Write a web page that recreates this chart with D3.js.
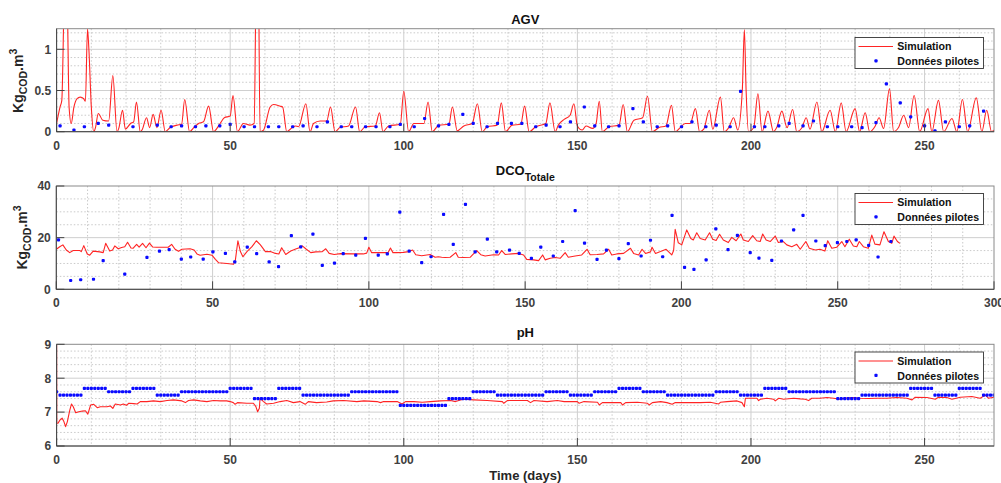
<!DOCTYPE html>
<html><head><meta charset="utf-8">
<script src="https://cdn.jsdelivr.net/npm/d3@7"></script>
<style>
body{margin:0;background:#fff}
svg{display:block}
text{font-family:"Liberation Sans",Arial,Helvetica,sans-serif;font-weight:bold}
</style>
</head><body>
<svg id="c" width="1001" height="483"></svg>
<script>
// ---------------- DATA ----------------
const legendLabels = ["Simulation", "Données pilotes"];
const titles = ["AGV", "DCO", "pH"];
const xLabel = "Time (days)";

const agvXTicks = [0, 50, 100, 150, 200, 250];
const agvYTicks = [0, 0.5, 1];
const dcoXTicks = [0, 50, 100, 150, 200, 250, 300];
const dcoYTicks = [0, 20, 40];
const phXTicks = [0, 50, 100, 150, 200, 250];
const phYTicks = [6, 7, 8, 9];

// AGV simulation [day, value]
const agvSim = [[0,0.1],[1,0.3],[1.5,0.38],[2,1.3],[2.6,3],[3.2,1.3],[3.6,0.3],[4.2,0.1],[5,0.3],[5.9,0.4],[6.8,0.42],[7.8,0.4],[8.3,0.37],[8.9,1.25],[9.3,1.0],[10,0.3],[10.7,0.0],[11.2,0.05],[12,0.22],[13.3,0.14],[15,0.13],[16.2,0.68],[17.4,0],[17.9,0.04],[19,0.26],[19.8,0.03],[21.3,0.1],[22.2,0.12],[23,0.36],[24.1,0],[24.6,0.02],[25.9,0.17],[26.8,0.05],[27.8,0.21],[28.9,0.05],[30.1,0.26],[31.3,0],[32.7,0.05],[34.7,0.08],[36,0.09],[36.9,0.39],[38.3,0],[39.5,0.05],[40.9,0.1],[42.3,0.12],[43.8,0.31],[45.2,0],[47.1,0.1],[48.3,0.17],[50,0.19],[50.8,0.44],[52.1,0],[53.8,0.1],[55.7,0.08],[56.9,0.1],[57.5,2],[58,2.5],[58.6,0],[59.6,0.02],[61.5,0.3],[62.5,0.33],[64.4,0.31],[65.1,0.3],[66.3,0],[67.3,0.03],[68.7,0.07],[69.7,0.06],[71.8,0.34],[73,0],[74,0.1],[75.9,0.13],[77.8,0.13],[78.9,0.3],[80.2,0],[81.6,0.05],[84.1,0.07],[86.1,0.3],[87.3,0],[88.9,0.06],[91.8,0.07],[93,0.23],[94,0],[95.6,0.07],[99,0.09],[100,0.49],[101.4,0],[102.9,0.1],[105.8,0.1],[107,0.36],[108.2,0],[110.1,0.08],[113,0.09],[114,0.3],[115.4,0.01],[117.3,0.07],[119.7,0.1],[121.2,0.34],[122.6,0],[124,0.06],[126.9,0.08],[128.1,0.35],[129.3,0],[131.2,0.08],[133.7,0.09],[134.8,0.31],[136.1,0],[138,0.06],[140.9,0.1],[142.1,0.35],[143.6,0],[144.5,0.08],[146.2,0.15],[147.9,0.2],[149,0.34],[150,0.07],[151.4,0.02],[152.5,0.07],[154.4,0.04],[155.4,0.1],[156.3,0.37],[157.2,0],[159.1,0.06],[162,0.08],[163.2,0.33],[164.4,0],[166.3,0.14],[168.8,0.17],[170.2,0.43],[171.6,0],[173.5,0.05],[175.5,0.07],[177.1,0.32],[178.2,0],[179.6,0.05],[181.1,0.1],[182.5,0.1],[184,0.28],[185.2,0],[186.4,0.03],[188,0.26],[189,0.03],[191.2,0.42],[192.3,0],[193.6,0.05],[195,0.17],[196.2,0.02],[197.5,0.5],[198.1,1.24],[198.6,0.5],[199.3,0],[200.8,0.05],[202,0.46],[203.2,0],[204.9,0.25],[206.5,0],[207.4,0.05],[208.9,0.25],[210.4,0.05],[212,0.27],[213.2,0],[214.7,0.05],[215.9,0.17],[217,0.03],[219,0.36],[220.4,0],[222.8,0.26],[224.3,0],[226,0.35],[227.4,0],[230,0.28],[231.3,0],[232.9,0.23],[234.2,0],[235.8,0.07],[236.9,0.17],[238.2,0.04],[239.9,0.52],[241.1,0],[242.5,0.05],[244,0.2],[245.4,0.05],[247,0.44],[248.6,0],[251,0.28],[252.1,0],[254,0.38],[255.5,0],[257.9,0.16],[259.3,0],[260.9,0.39],[262.4,0],[264.9,0.41],[266.5,0],[267.9,0.26],[269.3,0],[270,0.02]];

// AGV pilot data [day, value]
const agvPilot = [[1,0.07],[5,0.02],[8,0.06],[12,0.1],[15,0.08],[22,0.06],[29,0.08],[33,0.06],[36,0.07],[40,0.06],[43,0.07],[47,0.07],[50,0.09],[54,0.06],[57,0.06],[61,0.06],[64,0.06],[68,0.06],[71,0.07],[75,0.06],[78,0.12],[82,0.06],[85,0.06],[89,0.06],[92,0.06],[96,0.06],[99,0.09],[103,0.06],[106,0.16],[110,0.07],[113,0.09],[117,0.21],[120,0.1],[124,0.06],[127,0.1],[131,0.1],[134,0.1],[138,0.06],[141,0.08],[145,0.06],[148,0.12],[152,0.3],[155,0.07],[159,0.06],[162,0.07],[166,0.28],[169,0.12],[173,0.06],[176,0.07],[180,0.06],[183,0.12],[187,0.06],[190,0.08],[194,0.06],[197,0.49],[201,0.06],[204,0.06],[208,0.07],[211,0.1],[215,0.07],[218,0.13],[222,0.06],[225,0.06],[229,0.06],[232,0.05],[236,0.11],[239,0.58],[243,0.35],[246,0.18],[250,0.07],[253,0.01],[256,0.12],[260,0.06],[263,0.07],[267,0.25]];

// DCO simulation [day, value]
const dcoSim = [[0,15.5],[1.1,16.5],[2.1,17.2],[3.2,15.2],[4.3,14.2],[5.4,15],[7.5,15],[8,14.6],[8.8,16.9],[9.9,13.7],[10.7,13.2],[11.8,14.8],[13.9,14.5],[15,14.2],[15.8,17.8],[17.1,14.8],[18,15.2],[18.7,16.8],[19.8,15.7],[20.9,16.2],[21.9,16.5],[22.8,18.2],[23.9,16],[24.6,15.9],[25.7,17.4],[26.5,16.3],[27.6,17.8],[28.7,16.1],[29.8,17.9],[30.8,16.4],[32.1,16.3],[34.3,16.3],[35.8,16.3],[36.9,17.4],[38,15.5],[39.1,14.7],[40.2,15.5],[42.8,15.7],[44.1,15.2],[45,13.7],[46,13.2],[48.2,13.6],[49.8,13.2],[50.9,11.6],[51.9,10.3],[54.6,10],[56.7,9.7],[57.3,11.4],[58.1,18.8],[58.9,14.6],[59.7,12.6],[61,14.6],[62.6,16.5],[64,18.8],[65.3,17.2],[66.9,14.6],[68.5,14.6],[70.1,13.9],[71.2,13.7],[72.1,16.1],[73.4,13.5],[75,14.8],[76.6,15.6],[78.2,16.3],[78.7,16.8],[79.8,15.7],[81.4,14.2],[83,14.5],[85.1,14.6],[86.2,15.7],[87.3,13.9],[88.9,13.5],[91,13.8],[95,13.7],[98.2,13.7],[99.3,14],[100,16.3],[100.9,14.2],[102.5,14.2],[105.2,14.2],[106.2,14.3],[106.9,16],[107.7,14.2],[108.9,14.2],[111,14.3],[112.8,14.6],[114,15.2],[115,13.4],[116.9,13],[119.6,13.5],[121.2,12.4],[122.2,12.6],[123.3,12.4],[124.4,12.3],[126,12.4],[127.8,14.2],[128.6,12.4],[130.2,12.3],[132.4,12.4],[134.5,15],[135.8,13.4],[137.2,12.9],[139.9,13.4],[141.5,13.3],[142.5,15],[143.6,13.5],[145.7,13.7],[147.9,13.9],[149.5,13.3],[150.5,11.6],[152.7,11.4],[154.3,11.1],[155.6,13.3],[156.4,11.4],[158,12],[159.6,12.3],[161.2,12],[162.8,14.2],[163.8,12.4],[166,12.9],[168.1,13.3],[169.8,15.5],[170.8,13.4],[173,13.5],[175.1,13.7],[176.7,15.5],[177.7,13.3],[179.3,13.7],[181.5,13.9],[183.7,15.9],[184.7,13.9],[186.3,13.3],[187.4,15.5],[188.5,13.9],[190.1,14.5],[190.6,16.3],[191.7,13.9],[193.3,14.6],[195.1,15.5],[196.9,13.3],[197.5,15],[198,23.2],[199,18],[200.1,17.2],[201.7,23],[203,19.7],[203.8,19.1],[204.9,21.9],[206,19.7],[207.6,19.1],[209,21.9],[210,19.4],[211.1,18.9],[212.2,21.3],[213.4,19.1],[215,18.1],[216.1,20.1],[217.5,18.8],[219,21.4],[219.8,19.1],[221.4,18.5],[222.8,20.8],[224.1,18.8],[225.2,18.5],[226,21.4],[227.1,19.1],[228.4,18.5],[230,20.6],[231,18.1],[232.6,18.5],[233.7,17.2],[235.3,16.5],[236.9,17.4],[238,15.5],[239.8,18.5],[240.9,15.9],[242.8,15.2],[244.3,15.5],[245.9,14.8],[246.8,18.8],[248.1,15.9],[249.7,16.3],[251.3,18.5],[252.3,16.5],[253.7,19.4],[255,16.8],[256.1,16.5],[256.9,18.5],[258.2,16.5],[259.8,15.9],[260.9,21],[261.9,17.5],[263.5,17.2],[264.8,22.3],[266.2,18.5],[267.3,17.8],[268,20.6],[269.1,18.5],[269.9,17.8]];

// DCO pilot data [day, value]
const dcoPilot = [[0.7,19.1],[4.6,3.4],[7.8,3.7],[11.9,3.9],[15,11.1],[21.9,5.9],[29,12.4],[33,14.8],[36.1,15.4],[40,11.7],[43,12.5],[47,11.7],[50.1,14.5],[54.1,13.9],[57.1,10.6],[61.1,16.3],[64.1,13.8],[68.1,10.6],[71.1,8.8],[75.2,20.8],[78.2,16.4],[82.1,21.4],[85.1,9.3],[89,10.1],[91.8,13.8],[95.8,13.2],[98.9,19.7],[103,13.2],[105.9,13.7],[109.9,29.9],[112.9,14.8],[116.9,10.3],[119.9,12.6],[123.9,29],[127,17.4],[130.9,32.9],[134,14.5],[137.9,19.4],[140.9,14.5],[145,15.2],[148.1,13.9],[152,12],[155,16.3],[159,12.9],[162,18.5],[166,30.5],[169,17.9],[173,11.6],[176,15.2],[180,11.9],[183,17.7],[187.1,12.9],[190.1,19],[194,12.6],[197,28.6],[201,8.5],[204,7.7],[207.9,11.4],[211,23.4],[214.9,15.4],[217.9,20.9],[222,14.2],[224.8,12.1],[228.9,11.2],[232,18.7],[235.9,23],[238.9,28.6],[243,18.7],[246,16.9],[249.9,18.1],[252.9,18.5],[255.9,19.1],[259.9,17],[262.9,12.5],[267,18.5]];

// pH simulation [day, value]
const phSim = [[0,9.2],[0.05,6.67],[0.4,6.67],[1,6.77],[1.6,6.82],[2.1,6.72],[2.6,6.57],[3.1,6.72],[3.8,7.06],[4.3,7.24],[4.8,7.16],[5.5,6.98],[6.4,7.01],[7.4,7.03],[8.3,7.04],[9,6.94],[9.8,7.21],[10.7,7.23],[11.7,7.13],[12.6,7.16],[14.5,7.16],[15.5,7.18],[16.2,7.11],[16.9,7.24],[18.4,7.21],[19.2,7.24],[20.1,7.2],[20.8,7.26],[22.2,7.25],[23.2,7.24],[24.1,7.31],[26,7.31],[27.9,7.33],[29.9,7.31],[31.8,7.34],[33.7,7.36],[36.1,7.33],[37.1,7.28],[38,7.34],[39.5,7.36],[41.4,7.33],[43.3,7.31],[45.2,7.34],[47.1,7.33],[49,7.33],[50,7.31],[50.9,7.28],[51.4,7.23],[52.1,7.28],[54.8,7.26],[56.7,7.26],[57.4,7.16],[57.9,7.01],[58.4,7.11],[58.6,7.41],[59.6,7.31],[60.5,7.24],[62.5,7.26],[64.4,7.31],[66.3,7.34],[68.2,7.28],[70.1,7.31],[71.6,7.23],[72.5,7.31],[74.9,7.28],[77.8,7.3],[79.7,7.33],[82.7,7.34],[86.5,7.31],[88.5,7.33],[92.3,7.31],[93.3,7.28],[94.2,7.31],[98.1,7.31],[99.5,7.24],[100.5,7.31],[102.9,7.31],[105.3,7.29],[107.7,7.31],[110.6,7.33],[113.5,7.34],[114.9,7.31],[116.3,7.36],[117.3,7.38],[120.2,7.36],[124,7.34],[128.4,7.31],[128.8,7.26],[129.8,7.34],[132.7,7.34],[135.6,7.34],[136.5,7.28],[137.5,7.34],[141.3,7.31],[144.2,7.34],[146.2,7.31],[150,7.31],[150.5,7.26],[151.9,7.31],[155.8,7.29],[156.3,7.21],[157.2,7.28],[159.6,7.28],[162.5,7.28],[163,7.21],[163.9,7.28],[167.3,7.29],[170.2,7.26],[170.7,7.21],[171.6,7.28],[174,7.31],[175.8,7.28],[177.3,7.23],[178.2,7.28],[181.6,7.28],[185.4,7.28],[188.3,7.29],[190.7,7.24],[191.2,7.29],[193.1,7.31],[196,7.33],[197.4,7.28],[198.1,7.16],[198.4,7.41],[199.8,7.41],[201.7,7.41],[202.2,7.34],[202.7,7.38],[204.6,7.41],[206.5,7.38],[207,7.33],[208,7.41],[209.4,7.38],[212.3,7.41],[214.2,7.39],[215.6,7.38],[216.6,7.34],[217.5,7.41],[219.9,7.41],[221.9,7.43],[223.8,7.41],[225.7,7.38],[226.7,7.41],[229.1,7.43],[231.5,7.41],[233.9,7.4],[236.3,7.41],[239.2,7.41],[242,7.43],[244.9,7.41],[246.4,7.36],[247.3,7.44],[250.7,7.43],[253.1,7.38],[254,7.44],[256.4,7.43],[257.9,7.38],[260.3,7.44],[263.6,7.46],[266,7.41],[267.5,7.5],[268.4,7.41],[270,7.44]];

// pH pilot data as daily runs [firstDay, lastDay, value]
const phPilotRuns = [[0,0,7.6],[1,7,7.5],[8,14,7.7],[15,21,7.6],[22,28,7.7],[29,35,7.5],[36,49,7.6],[50,56,7.7],[57,63,7.4],[64,70,7.7],[71,84,7.5],[85,98,7.6],[99,112,7.2],[113,119,7.4],[120,126,7.6],[127,140,7.5],[141,147,7.6],[148,154,7.5],[155,161,7.6],[162,168,7.7],[169,175,7.6],[176,189,7.5],[190,196,7.6],[197,203,7.5],[204,210,7.7],[211,224,7.6],[225,231,7.4],[232,245,7.5],[246,252,7.7],[253,259,7.5],[260,266,7.7],[267,270,7.5]];

// ---------------- DRAW ----------------
const RED = "#ff2424", BLUE = "#0a0aff";
const svg = d3.select("#c");
const defs = svg.append("defs");

const phPilot = [];
phPilotRuns.forEach(([s, e, v]) => { for (let d = s; d <= e; d++) phPilot.push([d, v]); });

const panels = [
  {id:"agv", l:56.6, r:994, t:28.7, b:131.7, xdom:[0,270], ydom:[0,1.25], xt:agvXTicks, yt:agvYTicks, xminor:10, yminor:0.1,
   sim:agvSim, pilot:agvPilot, curve:d3.curveMonotoneX, fmt:d=>String(d), legTop:37.5,
   title:{x:525.3, y:23.5}, ylab:{x:22.7, y:80.8}},
  {id:"dco", l:56.3, r:994, t:186, b:289.3, xdom:[0,300], ydom:[0,40], xt:dcoXTicks, yt:dcoYTicks, xminor:10, yminor:5,
   sim:dcoSim, pilot:dcoPilot, curve:d3.curveLinear, fmt:d=>String(d), legTop:193.5,
   title:{x:525.3, y:175}, ylab:{x:27.3, y:237.5}},
  {id:"ph", l:56.6, r:994, t:344.3, b:446, xdom:[0,270], ydom:[6,9], xt:phXTicks, yt:phYTicks, xminor:10, yminor:0.2,
   sim:phSim, pilot:phPilot, curve:d3.curveLinear, fmt:d=>String(d), legTop:352,
   title:{x:525.3, y:337}, ylab:null}
];

panels.forEach((p, i) => {
  const x = d3.scaleLinear().domain(p.xdom).range([p.l, p.r]);
  const y = d3.scaleLinear().domain(p.ydom).range([p.b, p.t]);
  const g = svg.append("g");

  // minor grid
  const xMinor = d3.range(p.xdom[0], p.xdom[1] + 1e-9, p.xminor).filter(v => !p.xt.includes(v) && v > p.xdom[0] && v < p.xdom[1]);
  const nY = Math.round((p.ydom[1] - p.ydom[0]) / p.yminor);
  const yMinor = d3.range(1, nY).map(k => +(p.ydom[0] + k * p.yminor).toFixed(4)).filter(v => !p.yt.some(t => Math.abs(t - v) < 1e-6));
  g.selectAll(".mx").data(xMinor).join("line")
    .attr("x1", d => x(d)).attr("x2", d => x(d)).attr("y1", p.t).attr("y2", p.b)
    .attr("stroke", "#bdbdbd").attr("stroke-width", 0.8).attr("stroke-dasharray", "1.5,2");
  g.selectAll(".my").data(yMinor).join("line")
    .attr("x1", p.l).attr("x2", p.r).attr("y1", d => y(d)).attr("y2", d => y(d))
    .attr("stroke", "#bdbdbd").attr("stroke-width", 0.8).attr("stroke-dasharray", "1.5,2");
  // major grid
  g.selectAll(".gx").data(p.xt.filter(v => v > p.xdom[0] && v < p.xdom[1])).join("line")
    .attr("x1", d => x(d)).attr("x2", d => x(d)).attr("y1", p.t).attr("y2", p.b)
    .attr("stroke", "#cfcfcf").attr("stroke-width", 1);
  g.selectAll(".gy").data(p.yt.filter(v => v > p.ydom[0] && v < p.ydom[1])).join("line")
    .attr("x1", p.l).attr("x2", p.r).attr("y1", d => y(d)).attr("y2", d => y(d))
    .attr("stroke", "#cfcfcf").attr("stroke-width", 1);

  // clip
  defs.append("clipPath").attr("id", "clip" + i).append("rect")
    .attr("x", p.l).attr("y", p.t).attr("width", p.r - p.l).attr("height", p.b - p.t);
  const plot = g.append("g").attr("clip-path", `url(#clip${i})`);
  const line = d3.line().x(d => x(d[0])).y(d => y(d[1])).curve(p.curve);
  plot.append("path").datum(p.sim).attr("d", line)
    .attr("fill", "none").attr("stroke", RED).attr("stroke-width", 1.1).attr("stroke-linejoin", "round");
  plot.selectAll(".pt").data(p.pilot).join("rect")
    .attr("x", d => x(d[0]) - 1.6).attr("y", d => y(d[1]) - 1.6).attr("width", 3.2).attr("height", 3.2)
    .attr("rx", 1).attr("fill", BLUE);

  // box
  const ax = g.append("g").attr("stroke", "#555").attr("stroke-width", 1);
  ax.append("rect").attr("x", p.l).attr("y", p.t).attr("width", p.r - p.l).attr("height", p.b - p.t).attr("fill", "none").attr("stroke", "#8a8a8a");
  ax.append("line").attr("x1", p.l).attr("x2", p.r).attr("y1", p.b).attr("y2", p.b).attr("stroke", "#444");
  ax.append("line").attr("x1", p.l).attr("x2", p.l).attr("y1", p.t).attr("y2", p.b).attr("stroke", "#444");
  // ticks (inward)
  const TL = 8;
  ax.selectAll(".tx").data(p.xt).join("line")
    .attr("x1", d => x(d)).attr("x2", d => x(d)).attr("y1", p.b).attr("y2", p.b - TL).attr("stroke", "#444");
  ax.selectAll(".ty").data(p.yt).join("line")
    .attr("x1", p.l).attr("x2", p.l + TL).attr("y1", d => y(d)).attr("y2", d => y(d)).attr("stroke", "#444");

  // tick labels
  g.selectAll(".lx").data(p.xt).join("text")
    .attr("x", d => x(d)).attr("y", p.b + 17.8).attr("text-anchor", "middle")
    .attr("font-size", 12).attr("fill", "#404040").text(p.fmt);
  g.selectAll(".ly").data(p.yt).join("text")
    .attr("x", p.l - 5.5).attr("y", d => y(d) + 4.3).attr("text-anchor", "end")
    .attr("font-size", 12).attr("fill", "#404040").text(p.fmt);

  // title
  const tt = g.append("text").attr("x", p.title.x).attr("y", p.title.y).attr("text-anchor", "middle")
    .attr("font-size", 13).attr("fill", "#111");
  tt.append("tspan").text(titles[i]);
  if (p.id === "dco") tt.append("tspan").attr("font-size", 10.5).attr("dy", 5.5).text("Totale");

  // y label
  if (p.ylab) {
    const yl = g.append("text").attr("transform", `translate(${p.ylab.x},${p.ylab.y}) rotate(-90)`)
      .attr("text-anchor", "middle").attr("font-size", 14).attr("fill", "#262626");
    yl.append("tspan").text("Kg");
    yl.append("tspan").attr("font-size", 10.5).attr("dy", 4).text("COD");
    yl.append("tspan").attr("dy", -4).text(".m");
    yl.append("tspan").attr("font-size", 10.5).attr("dy", -6).text("3");
  }

  // legend
  const lg = g.append("g").attr("transform", `translate(855,${p.legTop})`);
  lg.append("rect").attr("x", 0).attr("y", 0).attr("width", 128.5).attr("height", 31)
    .attr("fill", "#fff").attr("stroke", "#333").attr("stroke-width", 0.9);
  lg.append("line").attr("x1", 3.5).attr("x2", 38).attr("y1", 9).attr("y2", 9).attr("stroke", RED).attr("stroke-width", 1.1);
  lg.append("rect").attr("x", 21 - 1.6).attr("y", 23.3 - 1.6).attr("width", 3.2).attr("height", 3.2).attr("rx", 1).attr("fill", BLUE);
  lg.append("text").attr("x", 42.3).attr("y", 12.8).attr("font-size", 10.6).attr("fill", "#111").text(legendLabels[0]);
  lg.append("text").attr("x", 42.3).attr("y", 27.5).attr("font-size", 10.6).attr("fill", "#111").text(legendLabels[1]);
});

svg.append("text").attr("x", 525.3).attr("y", 479.5).attr("text-anchor", "middle")
  .attr("font-size", 13).attr("fill", "#262626").text(xLabel);
</script>
</body></html>
